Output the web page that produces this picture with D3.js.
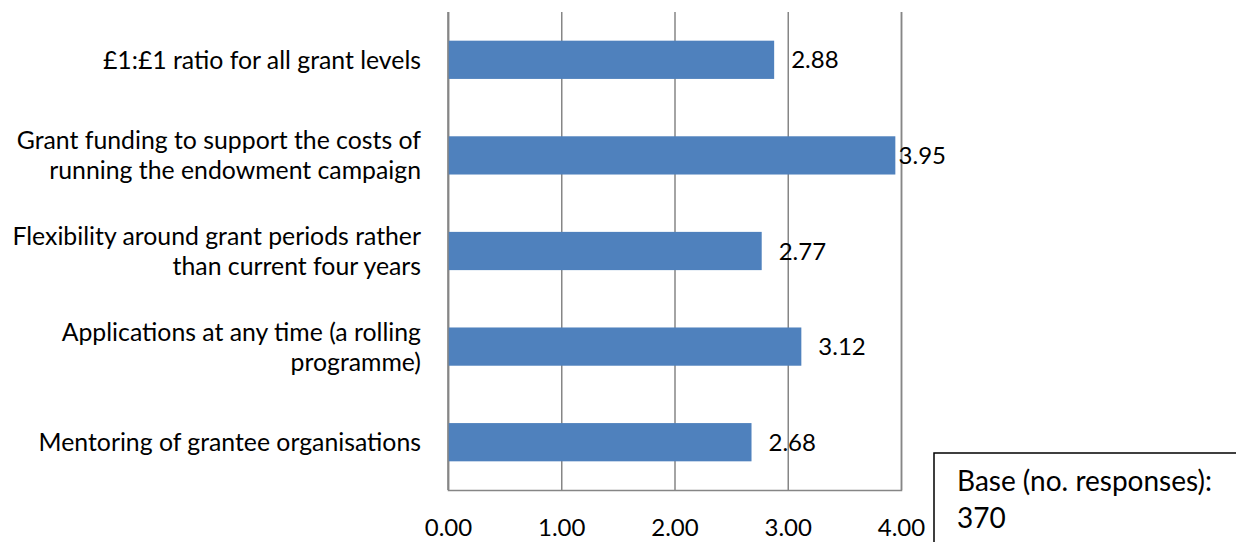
<!DOCTYPE html>
<html>
<head>
<meta charset="utf-8">
<script src="https://cdn.jsdelivr.net/npm/d3@7"></script>
<style>
  html, body { margin: 0; padding: 0; background: #fff; }
  svg { display: block; }
  text { font-family: Lato, "Open Sans", sans-serif; fill: #000; }
</style>
</head>
<body>
<svg id="chart" width="1236" height="542"></svg>
<script>
// ---- data ----
const categories = [
  ["£1:£1 ratio for all grant levels"],
  ["Grant funding to support the costs of", "running the endowment campaign"],
  ["Flexibility around grant periods rather", "than current four years"],
  ["Applications at any time (a rolling", "programme)"],
  ["Mentoring of grantee organisations"]
];
const values = [2.88, 3.95, 2.77, 3.12, 2.68];
const xTicks = [0, 1, 2, 3, 4];
const noteLines = ["Base (no. responses):", "370"];

// ---- layout ----
const plotL = 448, plotR = 901, plotT = 12, plotB = 490;
const numSize = 24;
const catSize = 24.8;
const noteSize = 28;
const gridColor = "#868686";
const barColor = "#4F81BD";

const svg = d3.select("#chart");

const x = d3.scaleLinear().domain([0, 4]).range([plotL, plotR]);
const y = d3.scaleBand()
  .domain(d3.range(categories.length))
  .range([plotT, plotB])
  .paddingInner(0.6)
  .paddingOuter(0.3);

// gridlines + bottom axis via d3.axisBottom
const xAxis = d3.axisBottom(x)
  .tickValues(xTicks)
  .tickSize(-(plotB - plotT))
  .tickPadding(29)
  .tickFormat(d3.format(".2f"));

const gx = svg.append("g")
  .attr("transform", `translate(0,${plotB})`)
  .call(xAxis);
gx.select(".domain").attr("stroke", gridColor).attr("stroke-width", 1.5);
gx.selectAll(".tick line").attr("stroke", gridColor).attr("stroke-width", 1.5);
gx.selectAll(".tick text")
  .attr("font-size", numSize)
  .attr("font-family", "Lato, 'Open Sans', sans-serif")
  .attr("fill", "#000");

// bars
svg.append("g").selectAll("rect")
  .data(values)
  .join("rect")
  .attr("x", x(0))
  .attr("y", (d, i) => y(i))
  .attr("width", d => x(d) - x(0))
  .attr("height", y.bandwidth())
  .attr("fill", barColor);

// left axis line (over bars)
svg.append("line")
  .attr("x1", x(0)).attr("x2", x(0))
  .attr("y1", plotT).attr("y2", plotB)
  .attr("stroke", gridColor).attr("stroke-width", 1.5);

// category labels
const lineH = 30;
const catG = svg.append("g");
categories.forEach((lines, i) => {
  const cy = y(i) + y.bandwidth() / 2;
  const n = lines.length;
  const t = catG.append("text")
    .attr("text-anchor", "end")
    .attr("font-size", catSize);
  lines.forEach((ln, j) => {
    t.append("tspan")
      .attr("x", plotL - 27)
      .attr("y", cy + (j - (n - 1) / 2) * lineH)
      .attr("dy", "0.36em")
      .text(ln);
  });
});

// value labels
const maxRight = 946;
const valG = svg.append("g");
values.forEach((v, i) => {
  const t = valG.append("text")
    .attr("font-size", numSize)
    .attr("y", y(i) + y.bandwidth() / 2)
    .attr("dy", "0.36em")
    .text(d3.format(".2f")(v));
  const w = t.node().getComputedTextLength();
  const xs = Math.min(x(v) + 17, maxRight - w);
  t.attr("x", xs);
});

// base note box
svg.append("rect")
  .attr("x", 934).attr("y", 453)
  .attr("width", 400).attr("height", 200)
  .attr("fill", "#fff")
  .attr("stroke", "#000")
  .attr("stroke-width", 1.5);
const note = svg.append("text").attr("font-size", noteSize);
noteLines.forEach((ln, j) => {
  note.append("tspan")
    .attr("x", 957)
    .attr("y", 491 + j * 37)
    .text(ln);
});
</script>
</body>
</html>
